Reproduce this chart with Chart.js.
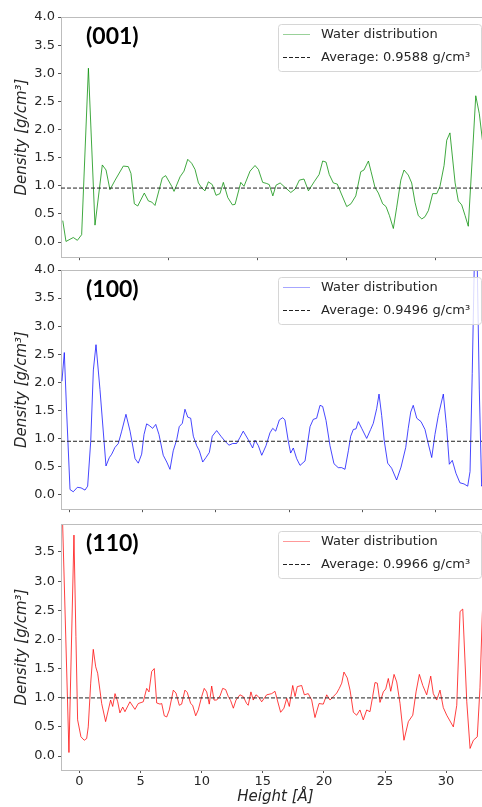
<!DOCTYPE html>
<html>
<head>
<meta charset="utf-8">
<script src="https://cdn.jsdelivr.net/npm/chart.js@4.4.1/dist/chart.umd.min.js"></script>
<style>
  html, body { margin: 0; padding: 0; background: #fff; overflow: hidden; }
  #wrap { position: relative; width: 482px; height: 807px; overflow: hidden; }
  #wrap canvas { position: absolute; left: 0; }
</style>
</head>
<body>
<div id="wrap">
  <canvas id="panel001" width="490" height="268" style="top:0px"></canvas>
  <canvas id="panel100" width="490" height="270" style="top:250px"></canvas>
  <canvas id="panel110" width="490" height="303" style="top:504px"></canvas>
</div>
<script>
// water density profiles, Height [Å] vs Density [g/cm3]
const surfaces = ['(001)', '(100)', '(110)'];
const averages = [0.9588, 0.9496, 0.9966];
const xLimits = [[-1.03, 23.07], [-0.545, 28.68], [-1.51, 33.59]];
const yLimits = [[-0.27, 4.0], [-0.26, 4.0], [-0.24, 3.98]];
const xTickStep = 5;
const yTickStep = 0.5;

const heights001 = [
  -0.93, -0.75, -0.34, -0.11, 0.13, 0.51, 0.88, 1.29, 1.50, 1.72,
  2.01, 2.47, 2.75, 2.90, 3.09, 3.28, 3.65, 3.88, 4.07, 4.25,
  4.66, 4.85, 5.19, 5.32, 5.66, 5.88, 6.09, 6.31, 6.50, 6.69,
  6.88, 7.06, 7.25, 7.47, 7.68, 7.90, 8.09, 8.34, 8.60, 8.75,
  9.07, 9.25, 9.59, 9.87, 10.06, 10.30, 10.53, 10.67, 10.87, 11.05,
  11.28, 11.56, 11.88, 12.12, 12.36, 12.62, 12.87, 13.19, 13.47, 13.67,
  13.86, 14.04, 14.27, 14.49, 14.70, 15.02, 15.26, 15.53, 15.81, 15.99,
  16.24, 16.39, 16.61, 16.80, 17.04, 17.23, 17.42, 17.64, 17.83, 18.06,
  18.24, 18.48, 18.67, 18.86, 19.04, 19.24, 19.42, 19.61, 19.85, 20.08,
  20.26, 20.49, 20.64, 20.82, 21.11, 21.29, 21.48, 21.67, 21.85, 22.08,
  22.27, 22.47, 22.64, 22.85, 23.10
];
const density001 = [
  0.38, 0.01, 0.08, 0.03, 0.13, 3.09, 0.30, 1.37, 1.28, 0.93,
  1.10, 1.35, 1.34, 1.22, 0.68, 0.64, 0.87, 0.73, 0.71, 0.65,
  1.14, 1.18, 0.99, 0.90, 1.16, 1.26, 1.47, 1.40, 1.29, 1.05,
  0.96, 0.91, 1.07, 1.02, 0.83, 0.86, 1.06, 0.79, 0.66, 0.67,
  1.06, 0.99, 1.26, 1.36, 1.29, 1.06, 1.04, 1.02, 0.82, 1.01,
  1.05, 0.97, 0.88, 0.94, 1.10, 1.12, 0.91, 1.07, 1.20, 1.44,
  1.42, 1.20, 1.05, 1.03, 0.87, 0.63, 0.68, 0.82, 1.25, 1.28,
  1.44, 1.25, 0.97, 0.87, 0.68, 0.63, 0.47, 0.24, 0.62, 1.10,
  1.28, 1.19, 1.05, 0.70, 0.47, 0.41, 0.45, 0.56, 0.86, 0.86,
  0.99, 1.36, 1.81, 1.94, 1.05, 0.73, 0.66, 0.47, 0.28, 1.53,
  2.60, 2.28, 1.82, 1.45, 1.20
];

const heights100 = [
  -0.48, -0.32, -0.16, 0.07, 0.29, 0.57, 0.82, 1.09, 1.27, 1.48,
  1.66, 1.84, 2.11, 2.52, 2.75, 2.91, 3.13, 3.36, 3.59, 3.88,
  4.16, 4.50, 4.72, 4.95, 5.11, 5.29, 5.47, 5.70, 5.91, 6.13,
  6.42, 6.66, 6.88, 7.10, 7.34, 7.51, 7.72, 7.90, 8.09, 8.29,
  8.47, 8.70, 8.88, 9.11, 9.33, 9.56, 9.76, 10.06, 10.35, 10.63,
  10.90, 11.15, 11.42, 11.65, 11.87, 12.21, 12.51, 12.67, 12.90, 13.13,
  13.42, 13.69, 13.88, 14.08, 14.33, 14.56, 14.71, 14.94, 15.10, 15.28,
  15.51, 15.74, 16.08, 16.42, 16.64, 16.87, 17.10, 17.28, 17.51, 17.78,
  18.05, 18.34, 18.58, 18.80, 19.03, 19.19, 19.37, 19.55, 19.71, 19.94,
  20.28, 20.55, 20.73, 20.96, 21.12, 21.30, 21.48, 21.71, 21.98, 22.32,
  22.62, 22.94, 23.11, 23.28, 23.45, 23.69, 23.98, 24.25, 24.48, 24.71,
  24.93, 25.16, 25.50, 25.73, 25.91, 26.11, 26.36, 26.63, 26.91, 27.16,
  27.32, 27.47, 27.61, 27.81, 27.95, 28.11, 28.40, 28.70
];
const density100 = [
  2.02, 2.53, 1.47, 0.09, 0.05, 0.13, 0.12, 0.08, 0.15, 0.95,
  2.22, 2.67, 1.87, 0.51, 0.66, 0.72, 0.84, 0.91, 1.13, 1.43,
  1.13, 0.64, 0.56, 0.72, 1.07, 1.26, 1.23, 1.18, 1.25, 1.07,
  0.70, 0.58, 0.45, 0.78, 0.98, 1.21, 1.27, 1.52, 1.38, 1.36,
  1.04, 0.87, 0.78, 0.58, 0.66, 0.75, 1.04, 1.14, 1.04, 0.95,
  0.88, 0.91, 0.91, 1.02, 1.13, 0.98, 0.83, 0.97, 0.87, 0.70,
  0.87, 1.10, 1.18, 1.13, 1.33, 1.37, 1.33, 0.95, 0.74, 0.83,
  0.64, 0.52, 0.60, 1.21, 1.34, 1.36, 1.59, 1.57, 1.32, 0.87,
  0.55, 0.48, 0.48, 0.45, 0.78, 1.04, 1.16, 1.17, 1.30, 1.18,
  1.00, 1.16, 1.27, 1.53, 1.79, 1.41, 0.95, 0.56, 0.47, 0.26,
  0.49, 0.84, 1.18, 1.47, 1.59, 1.36, 1.30, 1.16, 0.90, 0.66,
  1.07, 1.41, 1.79, 1.18, 0.54, 0.61, 0.38, 0.21, 0.19, 0.15,
  0.41, 2.16, 4.10, 4.10, 1.88, 0.15, 0.30, 0.50
];

const heights110 = [
  -1.51, -0.86, -0.45, -0.29, -0.15, 0.12, 0.39, 0.59, 0.72, 0.92,
  1.13, 1.33, 1.49, 1.82, 2.14, 2.36, 2.55, 2.72, 2.91, 3.13,
  3.31, 3.54, 3.72, 4.13, 4.54, 4.81, 5.22, 5.50, 5.69, 5.91,
  6.12, 6.32, 6.59, 6.73, 6.94, 7.14, 7.35, 7.68, 7.90, 8.17,
  8.36, 8.63, 8.82, 9.10, 9.26, 9.51, 9.72, 10.00, 10.21, 10.41,
  10.62, 10.82, 11.01, 11.23, 11.50, 11.72, 11.96, 12.18, 12.37, 12.59,
  12.81, 13.13, 13.40, 13.68, 13.81, 14.03, 14.22, 14.44, 14.63, 14.91,
  15.32, 15.73, 16.00, 16.19, 16.46, 16.73, 16.96, 17.17, 17.45, 17.64,
  17.82, 18.18, 18.40, 18.72, 19.00, 19.27, 19.60, 19.95, 20.23, 20.50,
  20.77, 21.05, 21.26, 21.46, 21.64, 21.91, 22.14, 22.41, 22.68, 22.95,
  23.22, 23.50, 23.77, 23.99, 24.18, 24.37, 24.59, 24.86, 25.06, 25.27,
  25.47, 25.74, 25.96, 26.23, 26.55, 26.91, 27.27, 27.54, 27.81, 28.09,
  28.41, 28.74, 28.95, 29.23, 29.50, 29.77, 30.05, 30.32, 30.59, 30.87,
  31.14, 31.36, 31.69, 31.96, 32.23, 32.55, 32.77, 32.96, 33.15, 33.60
];
const density110 = [
  5.00, 0.06, 3.79, 2.05, 0.62, 0.33, 0.27, 0.30, 0.50, 1.25,
  1.83, 1.53, 1.42, 0.90, 0.59, 0.79, 0.96, 0.85, 1.07, 0.93,
  0.74, 0.84, 0.76, 0.93, 0.80, 0.90, 0.93, 1.16, 1.10, 1.45,
  1.50, 0.91, 0.89, 0.90, 0.69, 0.67, 0.79, 1.13, 1.08, 0.87,
  0.89, 1.13, 1.09, 0.90, 0.87, 0.69, 0.79, 1.02, 1.16, 1.10,
  0.89, 1.20, 0.96, 0.96, 1.03, 1.16, 1.14, 1.02, 0.95, 0.82,
  0.96, 1.05, 1.02, 0.90, 0.87, 1.10, 0.96, 1.05, 1.02, 0.93,
  1.05, 1.07, 1.11, 0.96, 0.75, 0.82, 0.99, 0.85, 1.21, 1.02,
  1.19, 1.21, 1.05, 1.07, 0.96, 0.66, 0.90, 0.89, 1.05, 0.96,
  1.02, 1.08, 1.16, 1.25, 1.44, 1.34, 1.13, 0.75, 0.70, 0.79,
  0.62, 0.79, 0.76, 1.02, 1.26, 1.25, 0.92, 1.10, 1.15, 1.33,
  1.11, 1.40, 1.27, 0.90, 0.27, 0.59, 0.70, 1.10, 1.40, 1.21,
  1.05, 1.37, 1.07, 0.96, 1.13, 0.83, 0.70, 0.60, 0.50, 0.87,
  2.48, 2.52, 0.93, 0.13, 0.27, 0.33, 1.17, 2.42, 3.40, 3.10
];

const allHeights = [heights001, heights100, heights110];
const allDensity = [density001, density100, density110];
const lineColors = ['rgba(0,140,0,0.75)', 'rgba(0,0,255,0.72)', 'rgba(255,0,0,0.75)'];
const legendColors = ['rgba(0,140,0,0.4)', 'rgba(0,0,255,0.35)', 'rgba(255,0,0,0.4)'];

const textColor = '#262626';
const frameColor = '#bdbdbd';

// panel label, top frame line and the legend box
const panelDecor = {
  id: 'panelDecor',
  afterDraw(chart, args, opts) {
    const ctx = chart.ctx;
    const a = chart.chartArea;
    ctx.save();
    ctx.strokeStyle = frameColor;
    ctx.lineWidth = 1;
    ctx.beginPath();
    ctx.moveTo(a.left, a.top + 0.5);
    ctx.lineTo(a.right, a.top + 0.5);
    ctx.stroke();

    ctx.fillStyle = '#000';
    ctx.font = 'bold 23px Lato';
    ctx.textBaseline = 'middle';
    ctx.textAlign = 'left';
    ctx.fillText(opts.label, a.left + 25, a.top + 20);

    const w = 203, h = 47;
    const x0 = a.right - 9 - w, y0 = a.top + 7;
    ctx.beginPath();
    ctx.roundRect(x0 + 0.5, y0 + 0.5, w, h, 3);
    ctx.fillStyle = 'rgba(255,255,255,0.8)';
    ctx.fill();
    ctx.strokeStyle = '#d6d6d6';
    ctx.stroke();

    ctx.lineWidth = 1;
    ctx.strokeStyle = opts.legendColor;
    ctx.beginPath();
    ctx.moveTo(x0 + 5, y0 + 10.5);
    ctx.lineTo(x0 + 32, y0 + 10.5);
    ctx.stroke();
    ctx.strokeStyle = '#222';
    ctx.setLineDash([4, 2]);
    ctx.beginPath();
    ctx.moveTo(x0 + 5, y0 + 33.5);
    ctx.lineTo(x0 + 32, y0 + 33.5);
    ctx.stroke();
    ctx.setLineDash([]);

    ctx.fillStyle = textColor;
    ctx.font = '13px "DejaVu Sans"';
    ctx.fillText('Water distribution', x0 + 43, y0 + 11);
    ctx.fillText('Average: ' + opts.avg.toFixed(4) + ' g/cm³', x0 + 43, y0 + 34);
    ctx.restore();
  }
};

function makePanel(i, canvasId, topPad, xAxisHeight, isBottom) {
  const xs = allHeights[i];
  const ys = allDensity[i];
  const [xMin, xMax] = xLimits[i];
  const [yMin, yMax] = yLimits[i];
  const profile = xs.map((x, k) => ({ x: x, y: ys[k] }));
  const avgLine = [{ x: xMin, y: averages[i] }, { x: xMax, y: averages[i] }];

  return new Chart(document.getElementById(canvasId), {
    type: 'line',
    data: {
      datasets: [{
        data: avgLine,
        borderColor: '#222',
        borderWidth: 1,
        borderDash: [4, 2],
        pointRadius: 0
      }, {
        data: profile,
        borderColor: lineColors[i],
        borderWidth: 1,
        pointRadius: 0,
        tension: 0
      }]
    },
    options: {
      responsive: false,
      animation: false,
      devicePixelRatio: 1,
      layout: { padding: { top: topPad, left: 0, right: 0, bottom: 0 } },
      plugins: {
        legend: { display: false },
        tooltip: { enabled: false },
        panelDecor: { label: surfaces[i], avg: averages[i], legendColor: legendColors[i] }
      },
      scales: {
        x: {
          type: 'linear',
          min: xMin,
          max: xMax,
          grid: { display: true, drawOnChartArea: false, drawTicks: true, tickLength: 3, color: '#555' },
          border: { display: true, color: frameColor },
          ticks: {
            display: isBottom,
            stepSize: xTickStep,
            includeBounds: false,
            padding: 1,
            color: textColor,
            font: { family: 'DejaVu Sans', size: 13 },
            maxRotation: 0
          },
          title: {
            display: isBottom,
            text: 'Height [Å]',
            color: textColor,
            font: { family: 'DejaVu Sans', size: 15, style: 'italic' },
            padding: { top: 0, bottom: 1 }
          },
          afterFit: (scale) => { scale.height = xAxisHeight; }
        },
        y: {
          min: yMin,
          max: yMax,
          grid: { display: true, drawOnChartArea: false, drawTicks: true, tickLength: 3, color: '#555' },
          border: { display: true, color: frameColor },
          ticks: {
            stepSize: yTickStep,
            includeBounds: false,
            padding: 3,
            color: textColor,
            font: { family: 'DejaVu Sans', size: 13 },
            callback: (v) => Number(v).toFixed(1)
          },
          title: {
            display: true,
            text: 'Density [g/cm³]',
            color: textColor,
            font: { family: 'DejaVu Sans', size: 15, style: 'italic' },
            padding: { top: 13, bottom: 0 }
          },
          afterFit: (scale) => { scale.width = 61; }
        }
      }
    },
    plugins: [panelDecor]
  });
}

makePanel(0, 'panel001', 17, 3, false);
makePanel(1, 'panel100', 20, 3, false);
makePanel(2, 'panel110', 20, 37, true);
</script>
</body>
</html>
